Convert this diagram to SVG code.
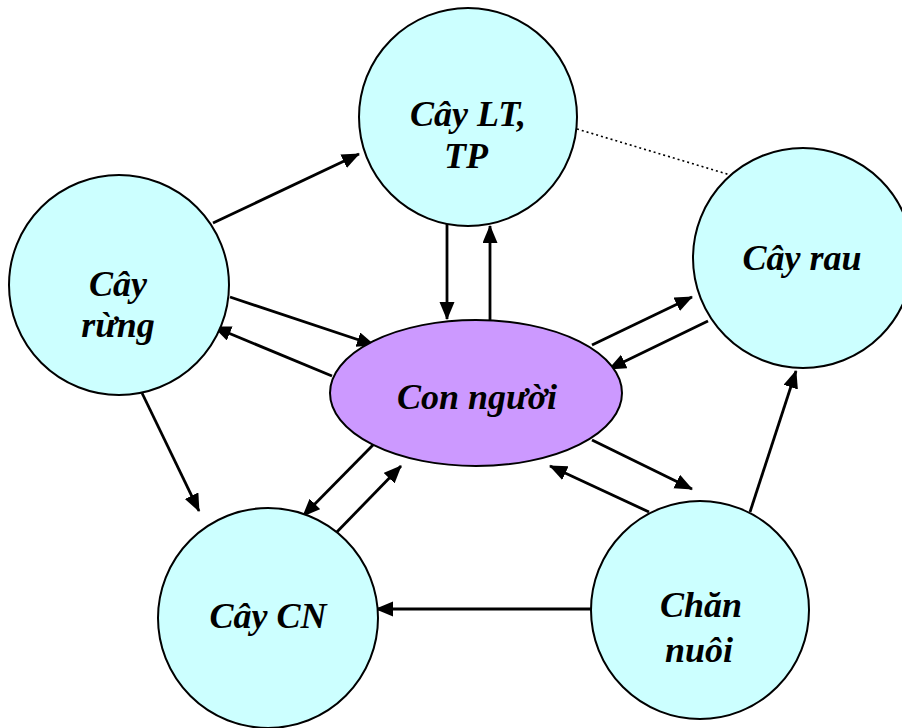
<svg xmlns="http://www.w3.org/2000/svg" width="902" height="728" viewBox="0 0 902 728">
<defs>
<marker id="ah" markerUnits="userSpaceOnUse" markerWidth="20" markerHeight="18" refX="17" refY="7.5" orient="auto">
<path d="M0,0 L18,7.5 L0,15 z" fill="#000"/>
</marker>
<style>
.c{fill:#CCFFFF;stroke:#000;stroke-width:2}
.e{fill:#CC99FF;stroke:#000;stroke-width:2}
.a{stroke:#000;stroke-width:2.8;fill:none;marker-end:url(#ah)}
.d{stroke:#000;stroke-width:1.6;stroke-dasharray:2 3;fill:none}
text{font-family:"Liberation Serif","Times New Roman",serif;font-weight:bold;font-style:italic;font-size:36px;text-anchor:middle;fill:#000}
</style>
</defs>
<rect width="902" height="728" fill="#fff"/>
<g id="connectors">
<line class="d" x1="577" y1="129" x2="737" y2="177"/>
<line class="a" x1="213" y1="223" x2="359" y2="154"/>
<line class="a" x1="447" y1="223" x2="447" y2="319"/>
<line class="a" x1="490" y1="320" x2="490" y2="226"/>
<line class="a" x1="230" y1="297" x2="374" y2="345"/>
<line class="a" x1="332" y1="376" x2="214" y2="327"/>
<line class="a" x1="592" y1="345" x2="692" y2="297"/>
<line class="a" x1="708" y1="321" x2="609" y2="369"/>
<line class="a" x1="373" y1="445" x2="303" y2="516"/>
<line class="a" x1="332" y1="537" x2="401" y2="466"/>
<line class="a" x1="592" y1="440" x2="692" y2="489"/>
<line class="a" x1="649" y1="512" x2="550" y2="466"/>
<line class="a" x1="591" y1="609" x2="376" y2="609"/>
<line class="a" x1="142" y1="393" x2="199" y2="511"/>
<line class="a" x1="750" y1="512" x2="796" y2="371"/>
</g>
<g id="cay-lt">
<circle class="c" cx="468" cy="117" r="109"/>
<text x="468" y="126">Cây LT,</text>
<text x="466" y="168">TP</text>
</g>
<g id="cay-rung">
<circle class="c" cx="119" cy="285" r="110"/>
<text x="118" y="296">Cây</text>
<text x="118" y="337">rừng</text>
</g>
<g id="cay-rau">
<circle class="c" cx="803" cy="258" r="110"/>
<text x="802" y="270">Cây rau</text>
</g>
<g id="con-nguoi">
<ellipse class="e" cx="476" cy="393" rx="146" ry="73"/>
<text x="477" y="409">Con người</text>
</g>
<g id="cay-cn">
<circle class="c" cx="268" cy="618" r="110"/>
<text x="268" y="628">Cây CN</text>
</g>
<g id="chan-nuoi">
<circle class="c" cx="700" cy="610" r="109"/>
<text x="701" y="617">Chăn</text>
<text x="699" y="662">nuôi</text>
</g>
</svg>
